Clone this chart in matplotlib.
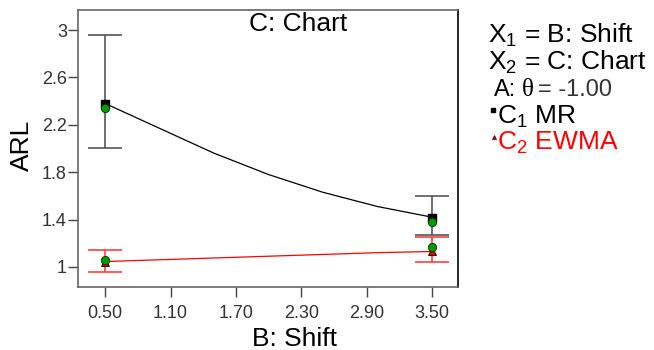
import matplotlib
matplotlib.use("Agg")
import matplotlib.pyplot as plt

plt.rcParams['font.family'] = ['Liberation Sans', 'DejaVu Sans']
plt.rcParams['mathtext.fontset'] = 'custom'
plt.rcParams['mathtext.rm'] = 'Liberation Sans'
plt.rcParams['mathtext.it'] = 'Liberation Sans'

# data
shift = [0.5, 3.5]
mr_mean = [2.38, 1.41]
mr_pred = [2.34, 1.38]
mr_lo = [2.00, 1.27]
mr_hi = [2.96, 1.60]
ewma_mean = [1.04, 1.13]
ewma_pred = [1.06, 1.17]
ewma_lo = [0.96, 1.04]
ewma_hi = [1.14, 1.25]

# fitted curves
curve_x = [0.5, 1.0, 1.5, 2.0, 2.5, 3.0, 3.5]
mr_curve = [2.38, 2.17, 1.96, 1.78, 1.63, 1.51, 1.42]
ewma_curve = [1.045, 1.06, 1.075, 1.09, 1.105, 1.12, 1.13]

xticks = [0.5, 1.1, 1.7, 2.3, 2.9, 3.5]
yticks = [1, 1.4, 1.8, 2.2, 2.6, 3]

fig = plt.figure(figsize=(6.54, 3.5), dpi=100)
ax = fig.add_axes([78/654, 1-287/350, 380/654, 277/350])

# MR
ax.plot(curve_x, mr_curve, color='black', lw=0.9, zorder=2)
ax.errorbar(shift, mr_mean,
            yerr=[[m - l for m, l in zip(mr_mean, mr_lo)], [h - m for m, h in zip(mr_mean, mr_hi)]],
            fmt='none', ecolor='#555555', elinewidth=1.2, capsize=12, capthick=1.2, zorder=3)
ax.plot(shift, mr_mean, 's', color='black', ms=6, zorder=4)
ax.plot(shift, mr_pred, 'o', color='#009900', mec='#003300', mew=0.6, ms=6, zorder=5)

# EWMA
ax.plot(curve_x, ewma_curve, color='red', lw=0.9, zorder=2)
ax.errorbar(shift, ewma_mean,
            yerr=[[m - l for m, l in zip(ewma_mean, ewma_lo)], [h - m for m, h in zip(ewma_mean, ewma_hi)]],
            fmt='none', ecolor='#ff4040', elinewidth=1.2, capsize=12, capthick=1.2, zorder=3)
ax.plot(shift, ewma_mean, '^', color='#dd0000', mec='black', mew=0.6, ms=6, zorder=4)
ax.plot(shift, ewma_pred, 'o', color='#009900', mec='#003300', mew=0.6, ms=6, zorder=5)

ax.set_xlim(0.25, 3.74)
ax.set_ylim(0.83, 3.17)
ax.set_xticks(xticks)
ax.set_xticklabels(['%.2f' % t for t in xticks])
ax.set_yticks(yticks)
ax.set_yticklabels(['%g' % t for t in yticks])
ax.tick_params(direction='out', length=7, width=1, color='#444444',
               labelsize=13, labelcolor='#333333', pad=1)
ax.tick_params(axis='x', pad=6)
for s in ['left', 'bottom', 'top']:
    ax.spines[s].set_color('#666666')
ax.spines['right'].set_color('black')
for s in ax.spines.values():
    s.set_linewidth(1.2)

ax.text(0.579, 0.95, 'C: Chart', transform=ax.transAxes, ha='center', va='center', fontsize=19)
fig.text(22/654, 1-145/350, 'ARL', rotation=90, ha='center', va='center', fontsize=19)
fig.text(295/654, 1-339/350, 'B: Shift', ha='center', va='center', fontsize=19)

# right side annotation
fig.text(488/654, 1-35/350, r'X$_1$ = B: Shift', ha='left', va='center', fontsize=19)
fig.text(488/654, 1-62/350, r'X$_2$ = C: Chart', ha='left', va='center', fontsize=19)
fig.text(494/654, 1-90/350, 'A:', ha='left', va='center', fontsize=17)
fig.text(522/654, 1-90/350, 'θ', ha='left', va='center', fontsize=18, family='Liberation Serif')
fig.text(538/654, 1-90/350, '= -1.00', ha='left', va='center', fontsize=17, color='#333333')
fig.text(497/654, 1-117/350, r'C$_1$ MR', ha='left', va='center', fontsize=19)
fig.text(497/654, 1-143/350, r'C$_2$ EWMA', ha='left', va='center', fontsize=19, color='red')
fig.lines.append(matplotlib.lines.Line2D([493/654], [1-110/350], marker='s', ms=2.5, color='black',
                                         transform=fig.transFigure, figure=fig))
fig.lines.append(matplotlib.lines.Line2D([494/654], [1-137/350], marker='^', ms=3, color='#cc0000',
                                         mec='black', mew=0.4, transform=fig.transFigure, figure=fig))

fig.savefig('out.png', dpi=100)
